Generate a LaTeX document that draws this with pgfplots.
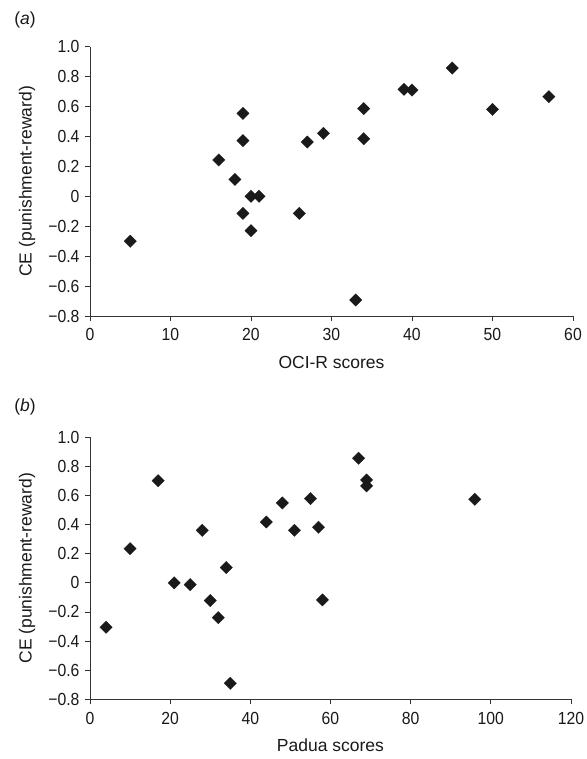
\documentclass[border=0pt]{standalone}
\usepackage{fontspec}
\setmainfont{Liberation Sans}
\newfontfamily\tickfont{Liberation Sans}[FakeStretch=0.9]
\usepackage{pgfplots}
\pgfplotsset{compat=1.18}
\newcommand\labfont{\fontsize{17.5bp}{20bp}\selectfont}
\newcommand\tfont{\tickfont\fontsize{17.5bp}{20bp}\selectfont}
\definecolor{axgray}{HTML}{333333}
\definecolor{mk}{HTML}{1A1A1A}

\pgfplotstableread{
x y
5 -0.30
16 0.243
18 0.113
19 0.554
19 0.372
19 -0.114
20 0.0
21 0.0
20 -0.230
26 -0.114
27 0.363
29 0.421
33 -0.693
34 0.586
34 0.385
39 0.715
40 0.710
45 0.857
50 0.581
57 0.666
}\ocitable

\pgfplotstableread{
x y
4 -0.305
10 0.235
17 0.702
21 0.0
25 -0.012
28 0.361
30 -0.122
32 -0.239
34 0.105
35 -0.690
44 0.418
48 0.549
51 0.361
55 0.579
57 0.382
58 -0.117
67 0.856
69 0.707
69 0.666
96 0.574
}\paduatable

\pgfplotsset{
  myaxis/.style={
    scale only axis,
    axis lines*=left,
    axis line style={axgray, line width=0.9bp, -},
    every tick/.style={axgray, line width=0.9bp},
    tick align=outside,
    major tick length=5bp,
    ymin=-0.8, ymax=1.0,
    ytick={-0.8,-0.6,-0.4,-0.2,0,0.2,0.4,0.6,0.8,1.0},
    yticklabels={−0.8,−0.6,−0.4,−0.2,0,0.2,0.4,0.6,0.8,1.0},
    tick label style={font=\tfont, text=black!90},
    yticklabel style={xshift=-2bp},
    xticklabel style={yshift=-4bp},
    label style={font=\labfont, text=black!90},
    ylabel={CE (punishment-reward)},
    clip=false,
  },
  mymarks/.style={only marks, mark=square*, mark size=4.4bp,
    mark options={rotate=45, fill=mk, draw=mk, line width=0.2bp}},
}

\begin{document}
\begin{tikzpicture}
\useasboundingbox (0,0) rectangle (587bp,759bp);
\begin{axis}[myaxis,
  at={(90bp,443bp)}, anchor=south west,
  width=483bp, height=269.3bp,
  xmin=0, xmax=60,
  xtick={0,10,20,30,40,50,60},
  xticklabels={0,10,20,30,40,50,60},
  xlabel={OCI-R scores},
  xlabel style={at={(axis description cs:0.5,-0.171)}, anchor=center},
  ylabel style={at={(axis description cs:-0.1304,0.5)}, anchor=center},
]
\addplot[mymarks] table[x=x,y=y] {\ocitable};
\end{axis}
\node[font=\labfont, text=black!90] at (25bp,739bp) {(\textit{a})};

\begin{axis}[myaxis,
  at={(90bp,59.7bp)}, anchor=south west,
  width=481bp, height=262bp,
  xmin=0, xmax=120,
  xtick={0,20,40,60,80,100,120},
  xticklabels={0,20,40,60,80,100,120},
  xlabel={Padua scores},
  xlabel style={at={(axis description cs:0.5,-0.176)}, anchor=center},
  ylabel style={at={(axis description cs:-0.131,0.5)}, anchor=center},
]
\addplot[mymarks] table[x=x,y=y] {\paduatable};
\end{axis}
\node[font=\labfont, text=black!90] at (25bp,352bp) {(\textit{b})};
\end{tikzpicture}
\end{document}
